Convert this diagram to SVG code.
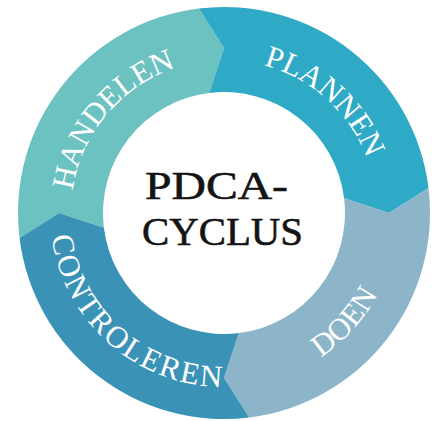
<svg xmlns="http://www.w3.org/2000/svg" xmlns:xlink="http://www.w3.org/1999/xlink" width="438" height="421" viewBox="0 0 438 421">
  <style>
    .lbl { font-family: "Liberation Serif", "Times New Roman", serif; font-size: 31px; fill: #ffffff; }
    .title { font-family: "Liberation Serif", "Times New Roman", serif; font-size: 40px; fill: #141414; stroke: #141414; stroke-width: 0.6; }
  </style>
  <defs>
    <path id="pH" d="M106.80,311.35 A153,153 0 0 1 300.50,80.50"/>
    <path id="pP" d="M129.80,92.43 A153,153 0 0 1 353.75,294.08"/>
    <path id="pD" d="M131.79,360.56 A174,174 0 0 0 361.11,105.88"/>
    <path id="pC" d="M76.44,120.79 A174,174 0 0 0 331.12,350.11"/>
  </defs>
  <rect width="438" height="421" fill="#ffffff"/>
  <g id="handelen">
    <path fill="#6cc1c1" d="M19.53,238.11 A206,206 0 0 1 198.89,8.53 L224,48 L209.25,92.90 A121,121 0 0 0 103.90,227.75 L59,213 Z"/>
    <text class="lbl"><textPath href="#pH" xlink:href="#pH" startOffset="50%" text-anchor="middle">HANDELEN</textPath></text>
  </g>
  <g id="plannen">
    <path fill="#2ea9c6" d="M198.89,8.53 A206,206 0 0 1 428.47,187.89 L389,213 L344.10,198.25 A121,121 0 0 0 209.25,92.90 L224,48 Z"/>
    <text class="lbl"><textPath href="#pP" xlink:href="#pP" startOffset="50%" text-anchor="middle">PLANNEN</textPath></text>
  </g>
  <g id="doen">
    <path fill="#8cb5ca" d="M428.47,187.89 A206,206 0 0 1 249.11,417.47 L224,378 L238.75,333.10 A121,121 0 0 0 344.10,198.25 L389,213 Z"/>
    <text class="lbl"><textPath href="#pD" xlink:href="#pD" startOffset="50%" text-anchor="middle">DOEN</textPath></text>
  </g>
  <g id="controleren">
    <path fill="#3a93b7" d="M249.11,417.47 A206,206 0 0 1 19.53,238.11 L59,213 L103.90,227.75 A121,121 0 0 0 238.75,333.10 L224,378 Z"/>
    <text class="lbl" letter-spacing="2"><textPath href="#pC" xlink:href="#pC" startOffset="50.5%" text-anchor="middle">CONTROLEREN</textPath></text>
  </g>
  <g id="center">
    <text class="title" x="145" y="199" textLength="143" lengthAdjust="spacingAndGlyphs">PDCA-</text>
    <text class="title" x="142" y="245" textLength="161" lengthAdjust="spacingAndGlyphs">CYCLUS</text>
  </g>
  <g id="connectors"/>
</svg>
